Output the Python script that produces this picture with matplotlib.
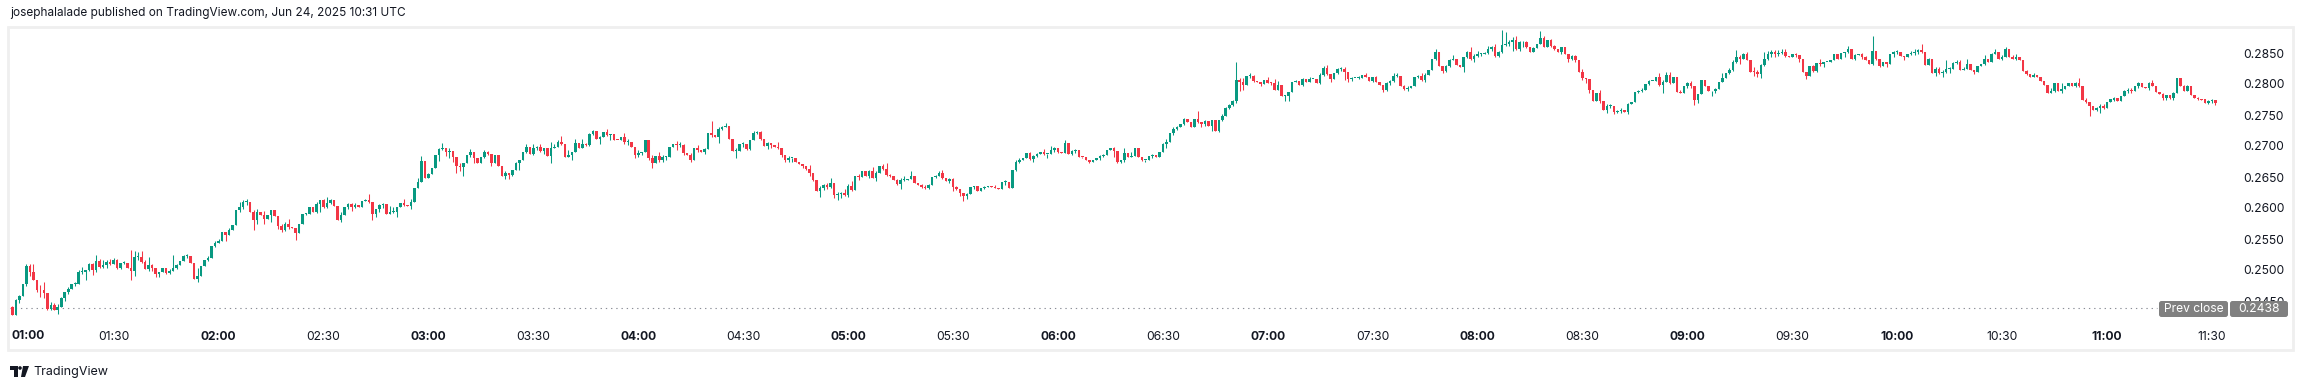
import numpy as np
import matplotlib
matplotlib.use("Agg")
import matplotlib.pyplot as plt
from matplotlib.patches import Rectangle, FancyBboxPatch, Circle, Polygon
from matplotlib.transforms import IdentityTransform

plt.rcParams['font.family'] = ['Inter', 'DejaVu Sans']

# 1-minute candles from 01:01 to 11:31, prices in units of 0.0001
first_open = 2440
closes = [
    2428, 2451, 2458, 2477, 2506, 2496, 2484, 2468, 2467, 2463,
    2437, 2444, 2435, 2441, 2455, 2464, 2470, 2478, 2478, 2497,
    2497, 2500, 2509, 2500, 2515, 2505, 2508, 2513, 2510, 2516,
    2504, 2511, 2511, 2504, 2499, 2521, 2521, 2513, 2502, 2508,
    2503, 2493, 2497, 2504, 2495, 2499, 2504, 2508, 2515, 2522,
    2522, 2512, 2485, 2490, 2507, 2516, 2520, 2538, 2544, 2547,
    2561, 2557, 2565, 2572, 2597, 2602, 2609, 2610, 2594, 2580,
    2594, 2588, 2582, 2589, 2597, 2587, 2571, 2565, 2575, 2569,
    2567, 2559, 2574, 2590, 2591, 2602, 2593, 2606, 2613, 2601,
    2608, 2613, 2603, 2581, 2589, 2601, 2606, 2602, 2605, 2601,
    2612, 2613, 2609, 2591, 2599, 2605, 2607, 2591, 2593, 2593,
    2602, 2608, 2605, 2604, 2610, 2633, 2642, 2676, 2649, 2655,
    2664, 2685, 2695, 2696, 2691, 2692, 2683, 2668, 2666, 2672,
    2685, 2691, 2680, 2673, 2682, 2691, 2687, 2672, 2686, 2667,
    2651, 2657, 2653, 2662, 2672, 2678, 2691, 2698, 2687, 2696,
    2699, 2692, 2697, 2684, 2697, 2699, 2707, 2703, 2683, 2685,
    2691, 2705, 2697, 2704, 2701, 2719, 2724, 2711, 2715, 2723,
    2718, 2719, 2710, 2709, 2715, 2706, 2707, 2699, 2685, 2689,
    2690, 2710, 2680, 2672, 2684, 2677, 2682, 2682, 2699, 2703,
    2702, 2702, 2688, 2685, 2677, 2697, 2693, 2691, 2695, 2721,
    2718, 2714, 2728, 2731, 2733, 2712, 2692, 2692, 2703, 2703,
    2695, 2710, 2721, 2722, 2711, 2700, 2705, 2701, 2699, 2696,
    2685, 2677, 2680, 2680, 2674, 2671, 2667, 2663, 2656, 2645,
    2628, 2633, 2637, 2634, 2641, 2621, 2623, 2624, 2621, 2635,
    2629, 2652, 2650, 2660, 2652, 2660, 2649, 2657, 2667, 2663,
    2653, 2652, 2645, 2638, 2645, 2645, 2647, 2652, 2641, 2637,
    2634, 2633, 2637, 2650, 2652, 2657, 2649, 2643, 2646, 2634,
    2631, 2624, 2619, 2623, 2634, 2635, 2628, 2632, 2634, 2635,
    2634, 2633, 2630, 2642, 2642, 2633, 2661, 2674, 2678, 2681,
    2688, 2679, 2684, 2687, 2691, 2687, 2687, 2694, 2696, 2691,
    2689, 2705, 2687, 2692, 2693, 2683, 2682, 2677, 2674, 2678,
    2680, 2684, 2685, 2693, 2697, 2692, 2675, 2677, 2689, 2683,
    2684, 2696, 2683, 2678, 2678, 2684, 2685, 2683, 2691, 2703,
    2707, 2721, 2727, 2730, 2735, 2744, 2738, 2731, 2743, 2738,
    2736, 2740, 2733, 2742, 2725, 2742, 2749, 2761, 2766, 2772,
    2806, 2803, 2798, 2813, 2813, 2805, 2804, 2800, 2806, 2802,
    2801, 2791, 2798, 2780, 2781, 2787, 2804, 2805, 2798, 2808,
    2804, 2808, 2808, 2802, 2815, 2826, 2816, 2808, 2818, 2824,
    2825, 2819, 2808, 2809, 2809, 2809, 2815, 2812, 2805, 2811,
    2804, 2798, 2790, 2802, 2805, 2813, 2813, 2797, 2792, 2794,
    2797, 2811, 2813, 2806, 2815, 2823, 2840, 2852, 2829, 2821,
    2829, 2839, 2840, 2831, 2828, 2843, 2851, 2840, 2845, 2848,
    2849, 2850, 2856, 2859, 2845, 2851, 2863, 2865, 2868, 2871,
    2856, 2867, 2868, 2859, 2852, 2858, 2865, 2875, 2860, 2871,
    2861, 2856, 2851, 2859, 2849, 2840, 2845, 2839, 2820, 2809,
    2808, 2790, 2772, 2785, 2772, 2758, 2765, 2765, 2755, 2756,
    2758, 2755, 2768, 2771, 2787, 2789, 2791, 2800, 2805, 2805,
    2812, 2798, 2804, 2815, 2801, 2811, 2787, 2786, 2796, 2802,
    2796, 2775, 2784, 2806, 2797, 2788, 2788, 2792, 2804, 2809,
    2817, 2823, 2836, 2844, 2841, 2849, 2839, 2820, 2819, 2816,
    2831, 2841, 2849, 2852, 2849, 2850, 2852, 2845, 2844, 2848,
    2847, 2840, 2820, 2813, 2829, 2821, 2834, 2832, 2835, 2836,
    2838, 2848, 2840, 2850, 2851, 2856, 2841, 2847, 2849, 2843,
    2839, 2832, 2853, 2840, 2829, 2835, 2832, 2849, 2851, 2852,
    2845, 2843, 2849, 2850, 2852, 2855, 2851, 2831, 2840, 2818,
    2825, 2817, 2819, 2824, 2825, 2834, 2836, 2823, 2825, 2833,
    2823, 2820, 2829, 2833, 2841, 2836, 2849, 2852, 2840, 2844,
    2857, 2843, 2841, 2844, 2839, 2821, 2816, 2812, 2814, 2811,
    2805, 2798, 2786, 2789, 2801, 2788, 2792, 2797, 2801, 2796,
    2802, 2796, 2774, 2771, 2765, 2758, 2761, 2765, 2761, 2771,
    2775, 2778, 2772, 2781, 2788, 2791, 2788, 2797, 2802, 2795,
    2793, 2802, 2797, 2787, 2784, 2777, 2782, 2778, 2786, 2809,
    2796, 2789, 2796, 2782, 2778, 2776, 2775, 2770, 2773, 2774,
    2769,
]
# wick length above / below the body, same units
upper = [
    2, 2, 2, 0, 3, 4, 14, 0, 8, 13,
    0, 4, 3, 4, 2, 0, 3, 0, 3, 3,
    8, 0, 2, 2, 9, 2, 8, 3, 4, 3,
    1, 0, 3, 0, 28, 10, 8, 9, 3, 13,
    1, 0, 0, 0, 0, 2, 20, 2, 0, 2,
    4, 0, 0, 14, 0, 0, 2, 0, 3, 3,
    0, 1, 3, 0, 0, 7, 4, 4, 0, 2,
    4, 0, 7, 0, 0, 0, 0, 4, 3, 7,
    0, 0, 0, 0, 1, 0, 0, 3, 0, 2,
    10, 2, 0, 0, 4, 0, 2, 2, 3, 0,
    0, 1, 10, 0, 0, 2, 1, 0, 10, 9,
    0, 0, 7, 0, 4, 0, 7, 8, 0, 2,
    0, 0, 2, 9, 0, 4, 0, 0, 5, 0,
    0, 4, 0, 0, 0, 3, 1, 0, 0, 0,
    0, 2, 0, 0, 3, 0, 0, 6, 0, 7,
    1, 4, 0, 0, 9, 5, 2, 9, 0, 8,
    0, 7, 0, 8, 1, 2, 2, 0, 1, 0,
    4, 0, 0, 0, 0, 6, 4, 0, 0, 4,
    1, 0, 0, 5, 0, 7, 4, 2, 0, 0,
    5, 4, 2, 0, 4, 0, 4, 0, 2, 0,
    20, 0, 3, 1, 4, 0, 0, 4, 0, 3,
    0, 0, 3, 2, 3, 0, 2, 0, 0, 7,
    0, 0, 4, 0, 0, 0, 0, 0, 6, 0,
    0, 2, 2, 3, 8, 0, 3, 2, 6, 3,
    9, 0, 3, 0, 0, 2, 6, 2, 0, 4,
    9, 2, 0, 2, 3, 6, 0, 8, 0, 0,
    1, 3, 1, 0, 2, 2, 4, 0, 3, 2,
    2, 0, 0, 1, 0, 1, 0, 0, 1, 0,
    0, 3, 0, 0, 3, 0, 0, 3, 2, 0,
    1, 3, 2, 2, 0, 4, 0, 6, 2, 1,
    0, 4, 0, 2, 2, 0, 0, 0, 0, 0,
    0, 2, 2, 0, 0, 2, 0, 1, 7, 0,
    7, 0, 0, 0, 0, 0, 2, 0, 0, 2,
    4, 0, 3, 2, 0, 1, 0, 0, 0, 13,
    0, 2, 0, 0, 0, 0, 2, 2, 2, 2,
    29, 3, 6, 0, 5, 2, 0, 0, 0, 5,
    2, 7, 7, 0, 2, 0, 0, 1, 0, 1,
    0, 3, 0, 0, 3, 3, 5, 0, 0, 2,
    2, 2, 0, 3, 0, 4, 0, 3, 0, 1,
    2, 0, 0, 2, 1, 5, 4, 0, 2, 2,
    0, 0, 2, 4, 2, 0, 0, 4, 0, 0,
    2, 1, 7, 0, 0, 0, 3, 9, 4, 6,
    1, 2, 5, 2, 6, 3, 24, 19, 3, 5,
    6, 2, 2, 1, 0, 2, 0, 10, 3, 0,
    2, 2, 0, 1, 0, 0, 2, 2, 0, 4,
    0, 0, 0, 0, 5, 0, 3, 2, 0, 2,
    4, 0, 1, 0, 0, 2, 2, 0, 1, 0,
    0, 6, 2, 4, 4, 0, 0, 3, 0, 2,
    3, 0, 0, 0, 0, 0, 0, 1, 0, 8,
    0, 3, 3, 11, 3, 1, 3, 0, 7, 3,
    2, 11, 4, 3, 3, 5, 5, 5, 0, 0,
    2, 0, 0, 0, 0, 2, 0, 7, 1, 0,
    0, 0, 0, 0, 1, 6, 0, 2, 0, 1,
    2, 0, 24, 1, 0, 0, 0, 0, 3, 3,
    0, 0, 0, 3, 4, 1, 10, 0, 2, 0,
    3, 3, 3, 15, 3, 2, 3, 3, 3, 8,
    0, 0, 0, 0, 5, 0, 1, 4, 0, 3,
    3, 0, 3, 5, 0, 0, 2, 0, 4, 0,
    0, 0, 0, 4, 1, 0, 9, 0, 1, 0,
    2, 8, 0, 3, 0, 0, 2, 2, 2, 0,
    0, 1, 0, 0, 2, 2, 2, 0, 2, 0,
    0, 2, 5, 0, 0, 1, 1, 1, 1, 1,
    0, 2, 2, 0, 0, 1, 0, 0, 1, 2,
    0,
]
lower = [
    1, 0, 4, 0, 2, 5, 0, 3, 10, 8,
    2, 1, 0, 6, 1, 5, 2, 0, 4, 1,
    3, 13, 1, 8, 3, 1, 2, 5, 2, 1,
    2, 2, 2, 0, 15, 9, 5, 2, 1, 4,
    4, 5, 4, 0, 1, 1, 1, 2, 0, 1,
    2, 0, 0, 5, 0, 0, 1, 0, 1, 1,
    0, 11, 1, 0, 0, 4, 4, 4, 0, 16,
    5, 0, 7, 0, 11, 0, 5, 4, 2, 3,
    0, 10, 0, 0, 1, 0, 0, 1, 13, 1,
    1, 1, 0, 0, 4, 0, 2, 7, 2, 0,
    0, 1, 1, 11, 5, 5, 5, 0, 0, 1,
    8, 0, 2, 1, 6, 0, 0, 0, 0, 1,
    0, 0, 9, 2, 7, 11, 8, 12, 6, 15,
    0, 2, 8, 0, 0, 1, 2, 5, 0, 0,
    0, 4, 7, 2, 1, 10, 0, 3, 0, 2,
    3, 1, 5, 0, 11, 1, 1, 1, 0, 1,
    8, 1, 0, 1, 1, 1, 2, 0, 8, 0,
    2, 8, 0, 0, 0, 2, 4, 0, 5, 3,
    3, 0, 2, 8, 0, 3, 3, 5, 0, 0,
    8, 3, 3, 0, 3, 0, 3, 0, 4, 0,
    3, 0, 9, 2, 1, 0, 0, 12, 0, 4,
    2, 2, 1, 2, 2, 0, 5, 5, 1, 1,
    2, 3, 2, 5, 0, 0, 3, 2, 4, 1,
    0, 10, 4, 4, 1, 5, 8, 7, 2, 3,
    1, 0, 5, 0, 0, 3, 0, 5, 0, 2,
    2, 2, 0, 1, 7, 2, 0, 1, 0, 0,
    1, 3, 3, 0, 2, 1, 2, 0, 2, 6,
    2, 4, 8, 4, 0, 4, 0, 0, 1, 0,
    0, 1, 0, 0, 5, 0, 0, 1, 1, 0,
    1, 1, 5, 1, 0, 1, 6, 0, 3, 2,
    1, 1, 0, 1, 3, 0, 2, 0, 2, 0,
    0, 2, 1, 0, 0, 9, 3, 2, 2, 0,
    1, 0, 0, 2, 4, 0, 3, 0, 0, 0,
    7, 0, 3, 1, 0, 1, 0, 0, 0, 1,
    5, 4, 0, 8, 0, 2, 1, 1, 1, 1,
    2, 14, 8, 0, 4, 1, 0, 4, 0, 1,
    3, 1, 1, 0, 7, 8, 0, 1, 0, 1,
    0, 1, 0, 0, 2, 2, 1, 5, 0, 2,
    3, 13, 4, 3, 0, 1, 0, 1, 0, 1,
    1, 0, 3, 2, 3, 2, 2, 0, 2, 3,
    0, 0, 2, 1, 2, 0, 0, 1, 0, 4,
    1, 2, 1, 0, 0, 8, 1, 1, 4, 2,
    3, 1, 1, 2, 2, 2, 1, 2, 3, 15,
    1, 2, 8, 1, 0, 1, 0, 1, 1, 0,
    1, 1, 0, 2, 1, 4, 1, 4, 0, 2,
    6, 4, 0, 0, 2, 0, 4, 4, 4, 1,
    2, 0, 4, 0, 0, 1, 2, 0, 2, 0,
    0, 1, 12, 1, 1, 0, 0, 1, 0, 2,
    3, 9, 5, 0, 0, 0, 8, 2, 0, 1,
    0, 1, 2, 2, 8, 1, 1, 0, 6, 4,
    6, 2, 2, 5, 6, 4, 1, 1, 0, 0,
    4, 4, 0, 5, 0, 2, 2, 3, 5, 0,
    0, 0, 0, 0, 7, 1, 0, 2, 0, 2,
    1, 0, 2, 1, 1, 0, 4, 0, 5, 3,
    0, 5, 0, 3, 4, 3, 1, 0, 1, 0,
    5, 1, 5, 1, 7, 0, 1, 1, 1, 1,
    0, 4, 0, 0, 2, 0, 1, 1, 0, 1,
    1, 0, 1, 2, 0, 0, 2, 0, 1, 0,
    0, 0, 1, 0, 2, 0, 3, 0, 1, 0,
    1, 1, 0, 1, 17, 0, 2, 7, 2, 0,
    0, 2, 0, 0, 1, 2, 2, 0, 3, 0,
    0, 2, 1, 0, 0, 2, 2, 2, 4, 1,
    0, 1, 1, 0, 0, 1, 0, 0, 3, 3,
    3,
]

prev_close = 0.2438
price_ticks = [0.2450, 0.2500, 0.2550, 0.2600, 0.2650, 0.2700, 0.2750, 0.2800, 0.2850]
time_labels = ["01:30", "02:00", "02:30", "03:00", "03:30", "04:00", "04:30",
               "05:00", "05:30", "06:00", "06:30", "07:00", "07:30", "08:00",
               "08:30", "09:00", "09:30", "10:00", "10:30", "11:00", "11:30"]
header = "josephalalade published on TradingView.com, Jun 24, 2025 10:31 UTC"

W, H = 2304, 382
TXT = '#131722'
GREEN = '#089981'
RED = '#f23645'

c = np.array(closes) / 1e4
o = np.r_[first_open, closes[:-1]] / 1e4
hi = np.maximum(o, c) + np.array(upper) / 1e4
lo = np.minimum(o, c) - np.array(lower) / 1e4
x = np.arange(1, len(c) + 1)  # minutes after 01:00
cols = np.where(c >= o, GREEN, RED)

fig = plt.figure(figsize=(W / 100, H / 100), dpi=100)
fig.patch.set_facecolor('white')

def m_at(px):
    return (px - 8.8) / 3.497

ax = fig.add_axes([10 / W, 1 - 325 / H, (2232 - 10) / W, (325 - 28) / H])
ax.set_xlim(m_at(10), m_at(2232))
ax.set_ylim(0.25 - 55 / 6200, 0.25 + 242 / 6200)
for s in ax.spines.values():
    s.set_visible(False)

ax.vlines(x, lo, hi, colors=cols, linewidth=0.75, zorder=2)
body = np.maximum(np.abs(c - o), 0.00015)
ax.bar(x, body, bottom=np.minimum(o, c), width=0.72, color=cols, linewidth=0, zorder=3)

ax.plot([m_at(10), m_at(2157)], [prev_close, prev_close], color='#8a8d96',
        linewidth=0.8, linestyle=(0, (1.2, 3.5)), zorder=1)

ax.yaxis.tick_right()
ax.set_yticks(price_ticks, [f"{v:.4f}" for v in price_ticks])
ax.tick_params(axis='y', length=0, pad=8, labelsize=8.7, labelcolor=TXT)

ax.set_xticks([30 * (i + 1) for i in range(len(time_labels))], time_labels)
ax.tick_params(axis='x', length=0, pad=4, labelsize=8.7, labelcolor=TXT)
for lab in ax.get_xticklabels():
    if lab.get_text().endswith(":00"):
        lab.set_fontweight('bold')

fig.text(11.5 / W, 1 - 336 / H, "01:00", ha='left', va='center', fontsize=8.7,
         fontweight='bold', color=TXT)

# outer frame
fig.add_artist(Rectangle((8 / W, 1 - 350 / H), (2293 - 8) / W, (350 - 27) / H,
                         transform=fig.transFigure, fill=False,
                         edgecolor='#efefef', linewidth=2))

# header
fig.text(10 / W, 1 - 13 / H, header, ha='left', va='center', fontsize=8.5, color=TXT)

# prev close labels
ident = IdentityTransform()
for (x0, x1, txt) in [(2159, 2228, "Prev close"), (2230, 2288, f"{prev_close:.4f}")]:
    fig.add_artist(FancyBboxPatch((x0, H - 317), x1 - x0, 16,
                                  boxstyle="round,pad=0,rounding_size=2.5",
                                  transform=ident, facecolor='#808080',
                                  edgecolor='none', zorder=5))
    fig.text((x0 + x1) / 2 / W, 1 - 309 / H, txt, ha='center', va='center',
             fontsize=8.7, color='white', zorder=6)

# TradingView logo + wordmark
fig.add_artist(Polygon([(10, H - 366), (17.5, H - 366), (17.5, H - 377), (14, H - 377),
                        (14, H - 370), (10, H - 370)], closed=True, transform=ident,
                       facecolor=TXT, edgecolor='none'))
fig.add_artist(Circle((20, H - 368), 1.8, transform=ident, facecolor=TXT, edgecolor='none'))
fig.add_artist(Polygon([(23, H - 366), (29, H - 366), (25, H - 377), (21, H - 377)],
                       closed=True, transform=ident, facecolor=TXT, edgecolor='none'))
fig.text(33 / W, 1 - 372 / H, "TradingView", ha='left', va='center', fontsize=9, color=TXT)

fig.savefig("out.png", dpi=100, facecolor='white')
